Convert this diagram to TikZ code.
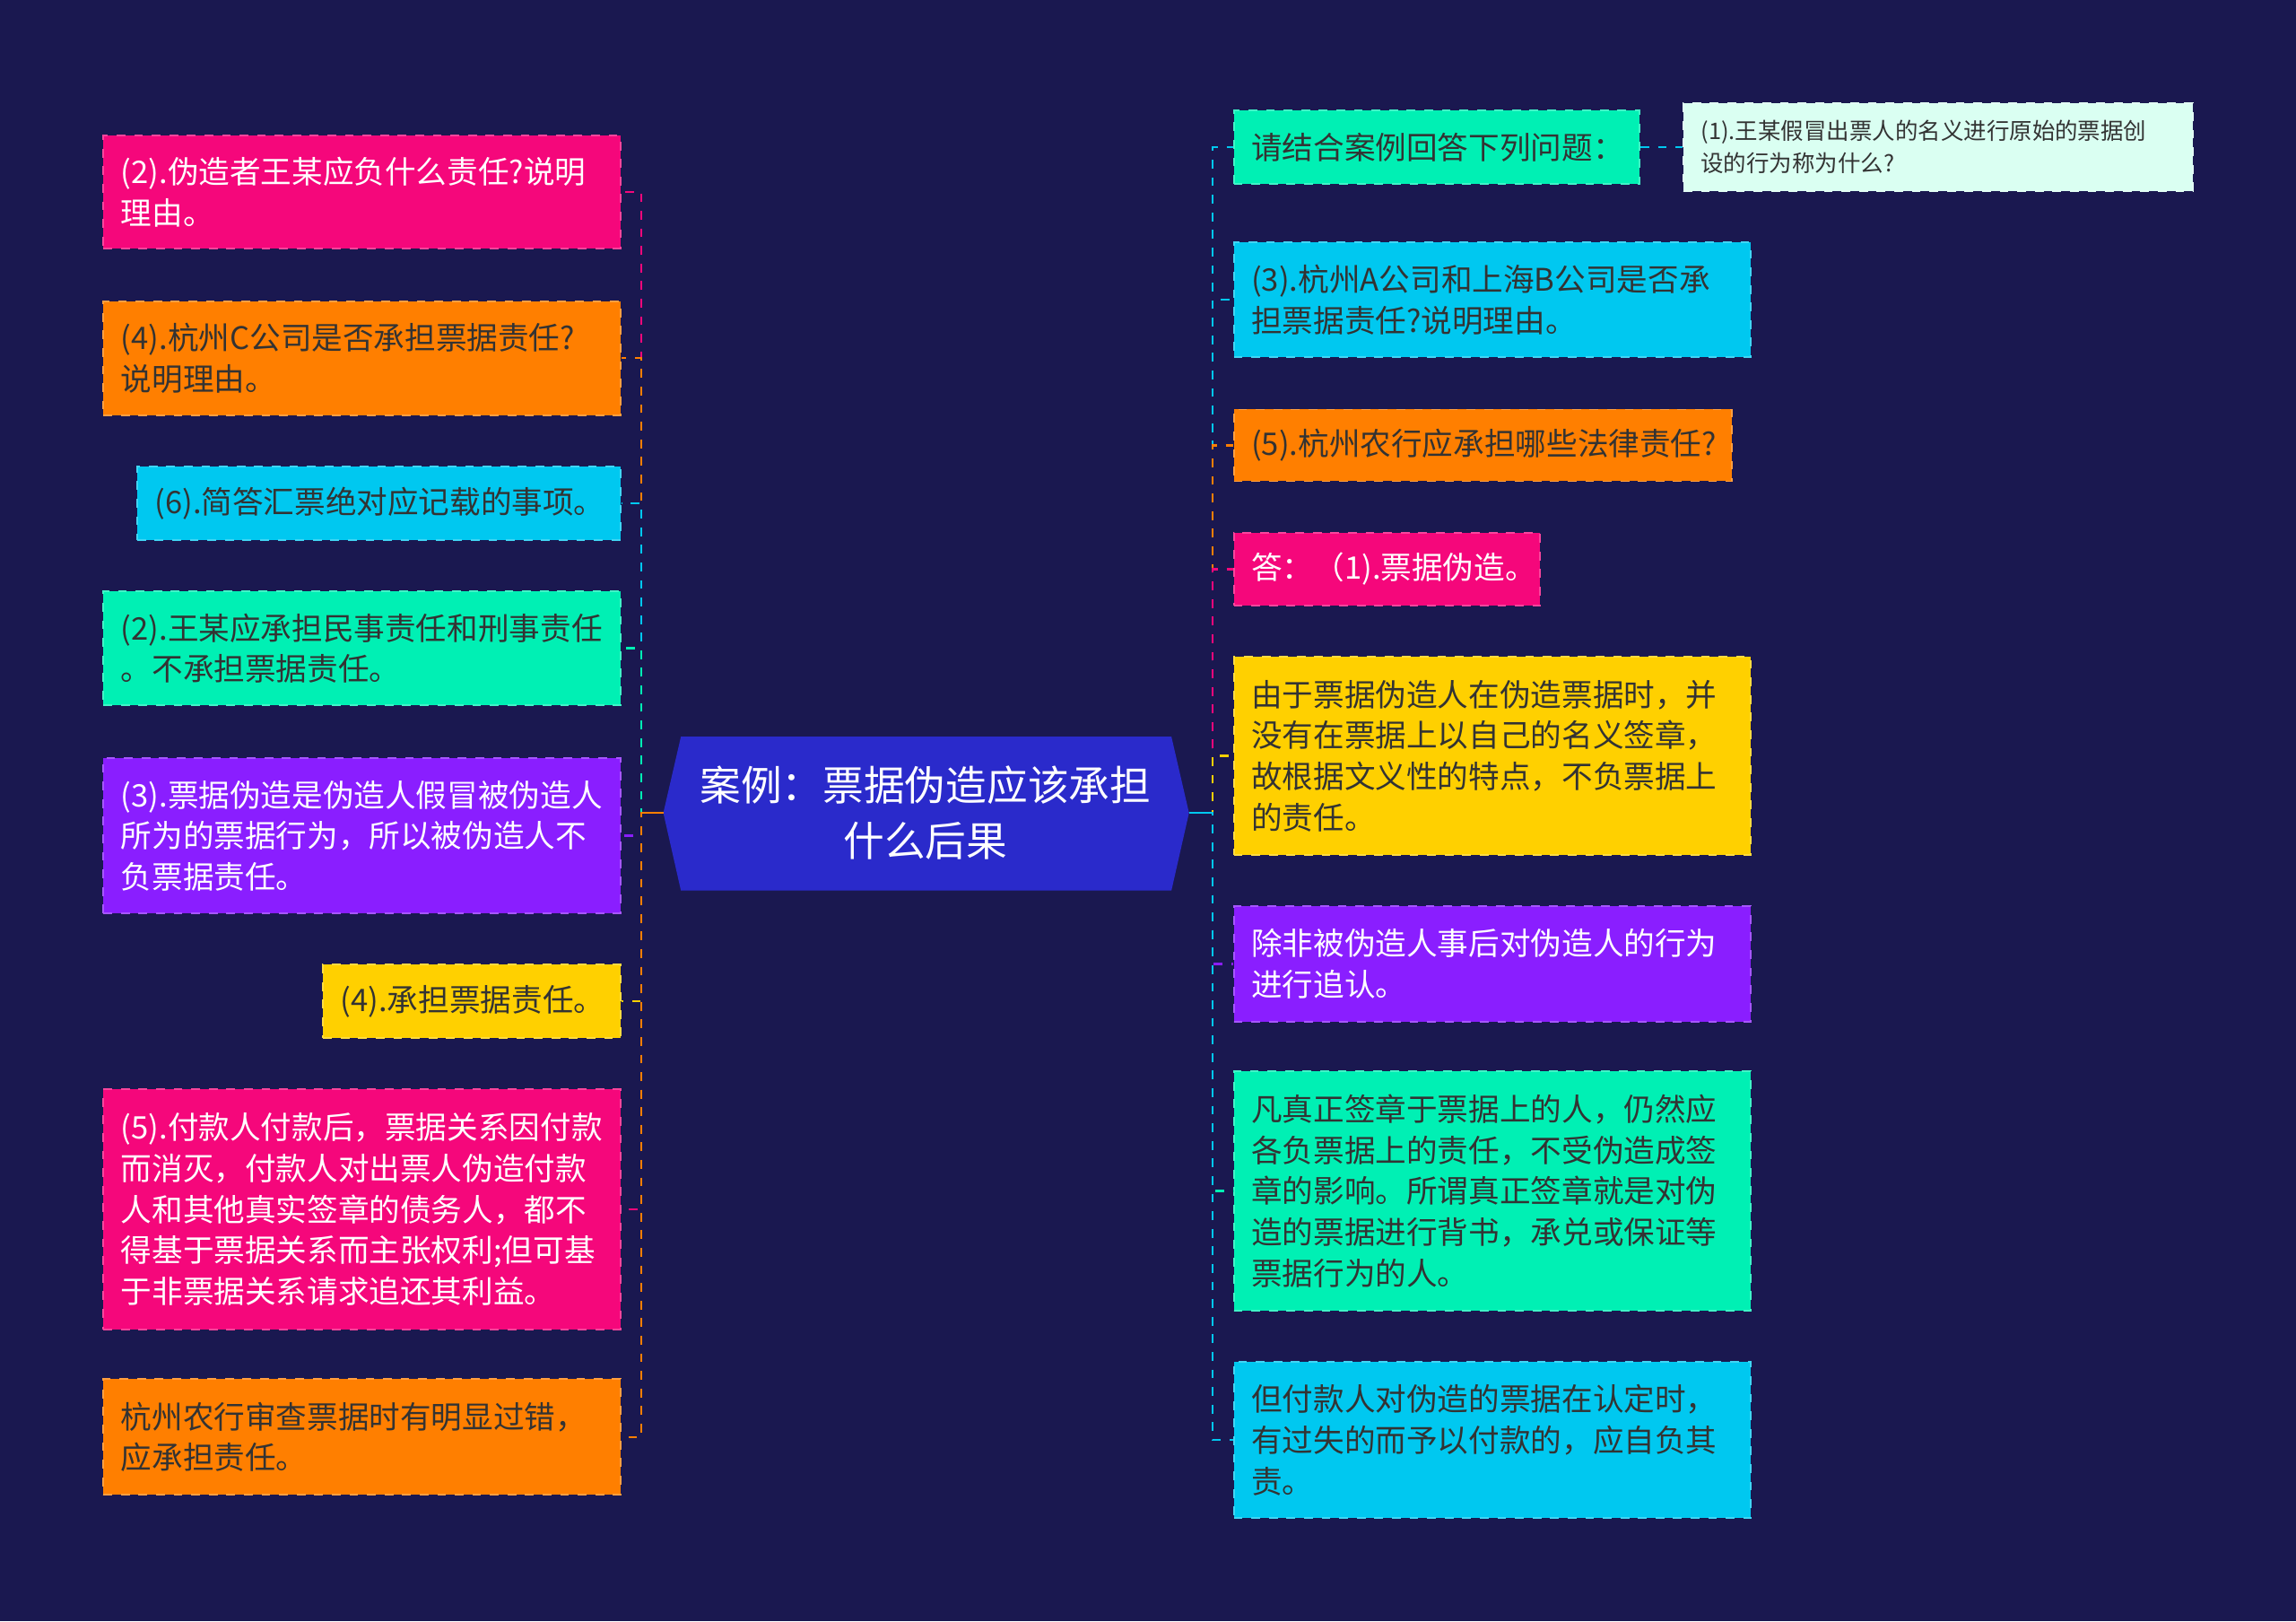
\documentclass[tikz,border=0pt]{standalone}
\usepackage{fontspec}
\setmainfont{Noto Sans CJK SC}
\begin{document}
\begin{tikzpicture}[x=0.5pt,y=-0.5pt,
  bx/.style={draw=#1!75!white,fill=#1,dashed,line width=0.6pt,inner sep=0pt,align=left,font=\fontsize{10.6}{14}\selectfont},
  ln/.style={draw=#1,dashed,line width=0.7pt}]
\definecolor{bg}{HTML}{1A1850}
\definecolor{cmag}{HTML}{F5077B}
\definecolor{cora}{HTML}{FF7F00}
\definecolor{ccya}{HTML}{00C8F0}
\definecolor{cgre}{HTML}{00F0B4}
\definecolor{cpur}{HTML}{8A1EFF}
\definecolor{cyel}{HTML}{FFD000}
\definecolor{clt}{HTML}{DAFFF2}
\definecolor{ccen}{HTML}{2A2ACB}
\definecolor{dk}{HTML}{333333}
\fill[bg] (0,0) rectangle (1568,1107);
\useasboundingbox (0,0) rectangle (1568,1107);
\newcommand\mybox[8]{%
 \pgfmathsetmacro\ww{(#4-#2)*0.5}\pgfmathsetmacro\hh{(#5-#3)*0.5}\pgfmathsetmacro\tw{(#4-#2)*0.5-12}%
 \node[bx=#6,text=#7,anchor=north west,minimum width=\ww pt,minimum height=\hh pt,text width=\tw pt,inner xsep=6pt] (#1) at (#2,#3) {#8};}
% center
\fill[ccen] (453,555)--(465,503)--(800,503)--(812,555)--(800,608)--(465,608)--cycle;
\node[text=white,align=center,font=\fontsize{14}{19}\selectfont] (c) at (632,555) {案例：票据伪造应该承担\\什么后果};
\coordinate (cl) at (453,555); \coordinate (cr) at (812,555);
% left
\mybox{l1}{70}{92}{423}{169}{cmag}{white}{(2).伪造者王某应负什么责任?说明\\理由。}
\mybox{l2}{70}{205}{423}{283}{cora}{dk}{(4).杭州C公司是否承担票据责任?\\说明理由。}
\mybox{l3}{93}{318}{423}{368}{ccya}{dk}{(6).简答汇票绝对应记载的事项。}
\mybox{l4}{70}{403}{423}{481}{cgre}{dk}{(2).王某应承担民事责任和刑事责任\\。不承担票据责任。}
\mybox{l5}{70}{517}{423}{623}{cpur}{white}{(3).票据伪造是伪造人假冒被伪造人\\所为的票据行为，所以被伪造人不\\负票据责任。}
\mybox{l6}{220}{658}{423}{708}{cyel}{dk}{(4).承担票据责任。}
\mybox{l7}{70}{743}{423}{907}{cmag}{white}{(5).付款人付款后，票据关系因付款\\而消灭，付款人对出票人伪造付款\\人和其他真实签章的债务人，都不\\得基于票据关系而主张权利;但可基\\于非票据关系请求追还其利益。}
\mybox{l8}{70}{941}{423}{1020}{cora}{dk}{杭州农行审查票据时有明显过错，\\应承担责任。}
% right
\mybox{r1}{842}{75}{1119}{125}{cgre}{dk}{请结合案例回答下列问题：}
\pgfmathsetmacro\tw{(1497-1149)*0.5-12}
\node[bx=clt,text=dk,anchor=north west,minimum width=174pt,minimum height=30pt,text width=\tw pt,inner xsep=6pt,font=\fontsize{7.8}{11}\selectfont] (r1a) at (1149,70) {(1).王某假冒出票人的名义进行原始的票据创\\设的行为称为什么?};
\mybox{r2}{842}{165}{1195}{243}{ccya}{dk}{(3).杭州A公司和上海B公司是否承\\担票据责任?说明理由。}
\mybox{r3}{842}{279}{1182}{328}{cora}{dk}{(5).杭州农行应承担哪些法律责任?}
\mybox{r4}{842}{363}{1051}{413}{cmag}{white}{答：（1).票据伪造。}
\mybox{r5}{842}{448}{1195}{583}{cyel}{dk}{由于票据伪造人在伪造票据时，并\\没有在票据上以自己的名义签章，\\故根据文义性的特点，不负票据上\\的责任。}
\mybox{r6}{842}{618}{1195}{697}{cpur}{white}{除非被伪造人事后对伪造人的行为\\进行追认。}
\mybox{r7}{842}{731}{1195}{894}{cgre}{dk}{凡真正签章于票据上的人，仍然应\\各负票据上的责任，不受伪造成签\\章的影响。所谓真正签章就是对伪\\造的票据进行背书，承兑或保证等\\票据行为的人。}
\mybox{r8}{842}{929}{1195}{1036}{ccya}{dk}{但付款人对伪造的票据在认定时，\\有过失的而予以付款的，应自负其\\责。}
% connectors
\foreach \n/\c in {l1/cmag,l2/cora,l3/ccya,l4/cgre,l5/cpur,l6/cyel,l7/cmag,l8/cora}
  \draw[ln=\c] (cl) -- (438,555) |- (\n.east);
\foreach \n/\c in {r1/ccya,r2/ccya,r3/cora,r4/cmag,r5/cyel,r6/cpur,r7/cgre,r8/ccya}
  \draw[ln=\c] (cr) -- (828,555) |- (\n.west);
\draw[ln=ccya] (r1.east) -- (r1a.west);
\draw[cora,line width=0.8pt] (cl) -- (438,555);
\draw[ccya,line width=0.8pt] (cr) -- (828,555);
\end{tikzpicture}
\end{document}
